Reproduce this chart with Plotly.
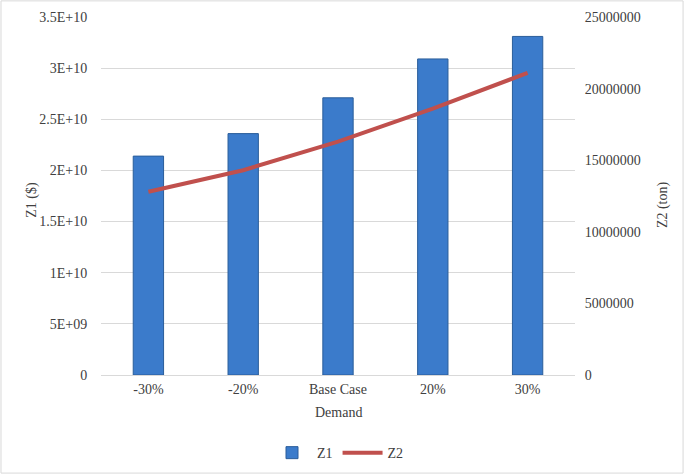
import plotly.graph_objects as go

# data
categories = ["-30%", "-20%", "Base Case", "20%", "30%"]
z1_cost = [2.14e10, 2.36e10, 2.71e10, 3.09e10, 3.31e10]
z2_emission = [12800000, 14300000, 16300000, 18600000, 21100000]

left_ticks = [0, 5e9, 1e10, 1.5e10, 2e10, 2.5e10, 3e10, 3.5e10]
left_labels = ["0", "5E+09", "1E+10", "1.5E+10", "2E+10", "2.5E+10", "3E+10", "3.5E+10"]
right_ticks = [0, 5000000, 10000000, 15000000, 20000000, 25000000]
right_labels = ["0", "5000000", "10000000", "15000000", "20000000", "25000000"]

font_family = "Liberation Serif, Times New Roman, serif"
text_color = "#404040"
tick_font = dict(family=font_family, size=14, color=text_color)

fig = go.Figure()
fig.add_trace(go.Bar(
    x=categories,
    y=z1_cost,
    name="Z1",
    marker=dict(color="#3b7bcb", line=dict(color="#2a5d9a", width=1)),
    yaxis="y",
))
fig.add_trace(go.Scatter(
    x=categories,
    y=z2_emission,
    name="Z2",
    mode="lines",
    line=dict(color="#c0504d", width=4),
    yaxis="y2",
))

fig.update_layout(
    width=685,
    height=475,
    margin=dict(l=101, r=110, t=17, b=100, autoexpand=False),
    paper_bgcolor="white",
    plot_bgcolor="white",
    font=dict(family=font_family, size=14, color=text_color),
    bargap=0.68,
    showlegend=True,
    legend=dict(
        orientation="h",
        x=0.5, xanchor="center",
        y=-0.218, yanchor="middle",
        font=tick_font,
        itemwidth=40,
    ),
    xaxis=dict(
        tickfont=tick_font,
        showline=True,
        linecolor="#d9d9d9",
        linewidth=1,
        ticks="outside",
        ticklen=1,
        tickcolor="rgba(0,0,0,0)",
        showgrid=False,
        automargin=False,
    ),
    yaxis=dict(
        tickfont=tick_font,
        range=[0, 3.5e10],
        tickvals=left_ticks,
        ticktext=left_labels,
        showgrid=True,
        gridcolor="#d9d9d9",
        zeroline=False,
        showline=False,
        ticks="outside",
        ticklen=10,
        tickcolor="rgba(0,0,0,0)",
        automargin=False,
    ),
    yaxis2=dict(
        tickfont=tick_font,
        overlaying="y",
        side="right",
        range=[0, 25000000],
        tickvals=right_ticks,
        ticktext=right_labels,
        showgrid=False,
        zeroline=False,
        showline=False,
        ticks="outside",
        ticklen=6,
        tickcolor="rgba(0,0,0,0)",
        automargin=False,
    ),
    annotations=[
        dict(text="Z1 ($)", xref="paper", yref="paper", x=-0.146, y=0.489,
             textangle=-90, showarrow=False, font=tick_font,
             xanchor="center", yanchor="middle"),
        dict(text="Z2 (ton)", xref="paper", yref="paper", x=1.186, y=0.475,
             textangle=-90, showarrow=False, font=tick_font,
             xanchor="center", yanchor="middle"),
        dict(text="Demand", xref="paper", yref="paper", x=0.5, y=-0.106,
             showarrow=False, font=tick_font,
             xanchor="center", yanchor="middle"),
    ],
    shapes=[dict(
        type="rect",
        xref="paper", yref="paper",
        x0=-0.211, x1=1.228,
        y0=-0.274, y1=1.045,
        line=dict(color="#d9d9d9", width=1),
        fillcolor="rgba(0,0,0,0)",
        layer="below",
    )],
)

fig.write_html("out.html", config={"displayModeBar": False},
               post_script="document.body.style.margin='0';")
